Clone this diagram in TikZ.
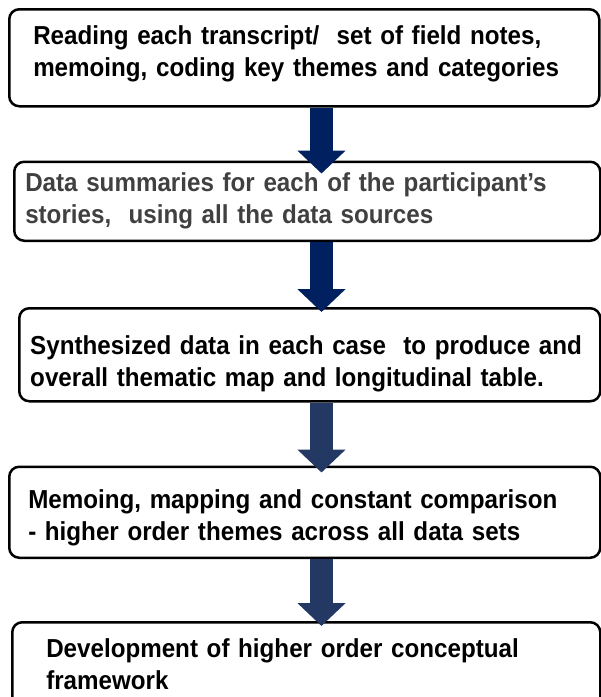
\documentclass[tikz,border=0pt]{standalone}
\usepackage{fontspec}
\setmainfont[FakeStretch=0.93]{Liberation Sans}
\usepackage{xcolor}
\usetikzlibrary{positioning}
\usetikzlibrary{arrows.meta, calc}
\definecolor{mynavy}{RGB}{0, 32, 96}
\definecolor{myslateblue}{RGB}{35, 57, 99}
\definecolor{mygray}{RGB}{64, 64, 64}

\begin{document}
\begin{tikzpicture}[
            box/.style={
                rectangle,
                rounded corners=10pt,
                draw=black,
                line width=2.5pt,
                fill=white,
                inner xsep=#1,
                inner ysep=0pt,
                align=left,
                font=\bfseries\fontsize{26}{32}\selectfont
            },
            flow/.style={
                draw=#1,
                line width=23pt,
                -{Triangle[width=47pt, length=23pt]}
            }
        ]
            \useasboundingbox (0,0) rectangle (601pt,-697pt);

            % Nodes
            \node[box=24pt, text width=542pt, text height=35pt, text depth=62pt, anchor=north west] (reading) at (8pt,-8pt) {
                Reading each transcript/\ \ set of field notes,\\
                memoing, coding key themes and categories
            };

            \node[box=11pt, text width=564pt, text height=30pt, text depth=49pt, text=mygray,
                  below=53pt of reading.south west, anchor=north west, xshift=5pt] (summaries) {
                Data summaries for each of the participant’s\\
                stories,\ \ using all the data sources
            };

            \node[box=11pt, text width=559pt, text height=46pt, text depth=47pt,
                  below=65pt of summaries.south west, anchor=north west, xshift=5pt] (synthesis) {
                Synthesized data in each case\ \ to produce and\\
                overall thematic map and longitudinal table.
            };

            \node[box=19pt, text width=553pt, text height=42pt, text depth=49pt,
                  below=63pt of synthesis.south west, anchor=north west, xshift=-10pt] (comparison) {
                Memoing, mapping and constant comparison\\
                - higher order themes across all data sets
            };

            \node[box=34pt, text width=520pt, text height=35pt, text depth=62pt,
                  below=62pt of comparison.south west, anchor=north west, xshift=3pt] (framework) {
                Development of higher order conceptual\\
                framework
            };

            % Arrows
            \coordinate (axis) at (321.5pt,0);
            \draw[flow=mynavy] (reading.south -| axis) -- ($(summaries.north -| axis)+(0,-13pt)$);
            \draw[flow=mynavy] (summaries.south -| axis) -- ($(synthesis.north -| axis)+(0,-5pt)$);
            \draw[flow=myslateblue] (synthesis.south -| axis) -- ($(comparison.north -| axis)+(0,-7pt)$);
            \draw[flow=myslateblue] (comparison.south -| axis) -- ($(framework.north -| axis)+(0,-5pt)$);
        \end{tikzpicture}
\end{document}
